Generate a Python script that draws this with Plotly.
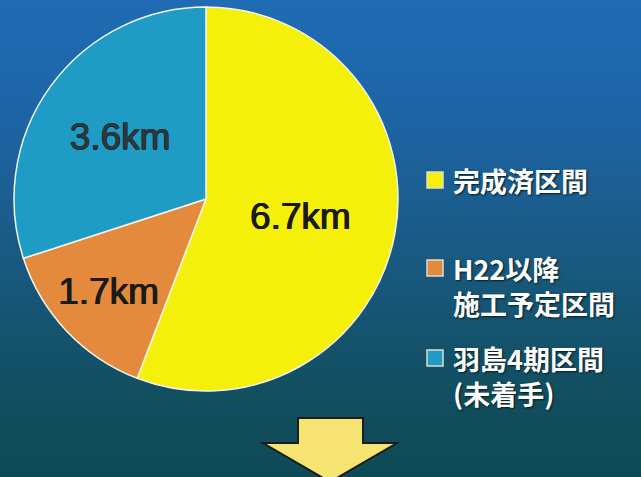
import plotly.graph_objects as go

# Section lengths (km) and their categories
categories = ["完成済区間", "H22以降<br>施工予定区間", "羽島4期区間<br>(未着手)"]
lengths_km = [6.7, 1.7, 3.6]
slice_colors = ["#F4F00A", "#E38A3C", "#1E9CC6"]
label_colors = ["#1a1a1a", "#1a1a1a", "#2a3a3c"]

W, H = 641, 477

fig = go.Figure()

fig.add_trace(go.Pie(
    labels=categories,
    values=lengths_km,
    sort=False,
    direction="clockwise",
    rotation=0,
    marker=dict(colors=slice_colors, line=dict(color="#f4f4ec", width=1.5)),
    texttemplate="%{value:.1f}km",
    textposition="inside",
    insidetextorientation="horizontal",
    textfont=dict(family="Liberation Sans, Arial, sans-serif", size=37,
                  color=label_colors,
                  shadow="0.6px 0 0 #222, -0.6px 0 0 #222, 0 0.5px 0 #222"),
    domain=dict(x=[14 / W, 398 / W], y=[1 - 391 / H, 1 - 7 / H]),
    showlegend=False,
    hoverinfo="label+value",
))

shapes = []

# vertical background gradient, blue at the top to dark teal at the bottom
stops = [(0.0, (31, 108, 180)), (0.25, (29, 100, 165)), (0.45, (27, 93, 140)),
         (0.65, (22, 85, 115)), (0.85, (17, 78, 93)), (1.0, (14, 74, 86))]


def grad(t):
    for (t0, c0), (t1, c1) in zip(stops[:-1], stops[1:]):
        if t0 <= t <= t1:
            f = (t - t0) / (t1 - t0)
            return "rgb(%d,%d,%d)" % tuple(round(a + (b - a) * f) for a, b in zip(c0, c1))
    return "rgb(%d,%d,%d)" % stops[-1][1]


n = 120
for i in range(n):
    y_top = 1 - i / n
    y_bot = 1 - (i + 1) / n - 0.002
    shapes.append(dict(type="rect", xref="paper", yref="paper", x0=0, x1=1,
                       y0=max(y_bot, 0), y1=y_top, line=dict(width=0),
                       fillcolor=grad((i + 0.5) / n), layer="below"))


def px(x, y):
    return x / W, 1 - y / H


# down arrow below the legend
arrow_pts = [(298, 418), (363, 418), (363, 443), (397, 443), (330, 482),
             (263, 443), (298, 443)]
path = "M " + " L ".join("%.4f,%.4f" % px(x, y) for x, y in arrow_pts) + " Z"
shapes.append(dict(type="path", xref="paper", yref="paper", path=path,
                   fillcolor="#F5E372", line=dict(color="#1c1c1c", width=2)))

# legend: square swatch beside the first text line of each entry
legend_font = 27
line_gap = 1.3 * legend_font
first_line_y = [180, 268, 358]
annotations = []
for name, color, yc in zip(categories, slice_colors, first_line_y):
    x0, y0 = px(427, yc - 8)
    x1, y1 = px(443, yc + 8)
    shapes.append(dict(type="rect", xref="paper", yref="paper", x0=x0, x1=x1,
                       y0=y1, y1=y0, fillcolor=color,
                       line=dict(color="#dcdcd0", width=1.5)))
    n_lines = name.count("<br>") + 1
    ax, ay = px(451, yc + (n_lines - 1) * line_gap / 2)
    annotations.append(dict(
        text=name, xref="paper", yref="paper", x=ax, y=ay,
        xanchor="left", yanchor="middle", align="left", showarrow=False,
        font=dict(family="Noto Sans CJK JP", size=legend_font, color="#ffffff",
                  weight="bold", shadow="1px 1px 2px #0a1a20"),
    ))

fig.update_layout(
    width=W, height=H,
    margin=dict(l=0, r=0, t=0, b=0),
    paper_bgcolor="#1a5d8c",
    plot_bgcolor="rgba(0,0,0,0)",
    shapes=shapes,
    annotations=annotations,
    xaxis=dict(visible=False), yaxis=dict(visible=False),
)

fig.write_html("out.html")
